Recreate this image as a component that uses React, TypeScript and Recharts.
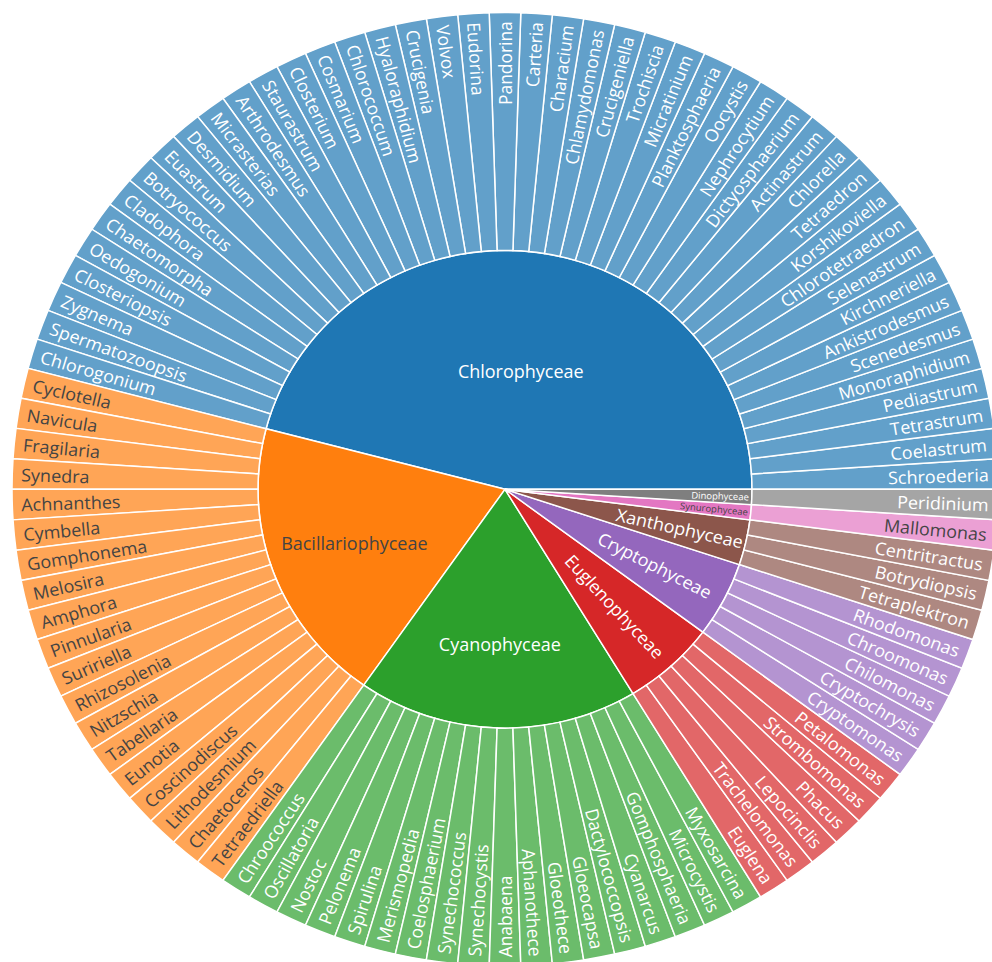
import React from 'react';
import { PieChart, Pie, Cell } from 'recharts';

// genera per class, in drawing order (counter-clockwise from 3 o'clock)
const chlorophyceae = [
  'Schroederia', 'Coelastrum', 'Tetrastrum', 'Pediastrum', 'Monoraphidium', 'Scenedesmus',
  'Ankistrodesmus', 'Kirchneriella', 'Selenastrum', 'Chlorotetraedron', 'Korshikoviella',
  'Tetraedron', 'Chlorella', 'Actinastrum', 'Dictyosphaerium', 'Nephrocytium', 'Oocystis',
  'Planktosphaeria', 'Micratinium', 'Trochiscia', 'Crucigeniella', 'Chlamydomonas', 'Characium',
  'Carteria', 'Pandorina', 'Eudorina', 'Volvox', 'Crucigenia', 'Hyaloraphidium', 'Chlorococcum',
  'Cosmarium', 'Closterium', 'Staurastrum', 'Arthrodesmus', 'Micrasterias', 'Desmidium',
  'Euastrum', 'Botryococcus', 'Cladophora', 'Chaetomorpha', 'Oedogonium', 'Closteriopsis',
  'Zygnema', 'Spermatozoopsis', 'Chlorogonium',
];
const bacillariophyceae = [
  'Cyclotella', 'Navicula', 'Fragilaria', 'Synedra', 'Achnanthes', 'Cymbella', 'Gomphonema',
  'Melosira', 'Amphora', 'Pinnularia', 'Suririella', 'Rhizosolenia', 'Nitzschia', 'Tabellaria',
  'Eunotia', 'Coscinodiscus', 'Lithodesmium', 'Chaetoceros', 'Tetraedriella',
];
const cyanophyceae = [
  'Chroococcus', 'Oscillatoria', 'Nostoc', 'Pelonema', 'Spirulina', 'Merismopedia',
  'Coelosphaerium', 'Synechococcus', 'Synechocystis', 'Anabaena', 'Aphanothece', 'Gloeothece',
  'Gloeocapsa', 'Dactylococcopsis', 'Cyanarcus', 'Gomphosphaeria', 'Microcystis', 'Myxosarcina',
];
const euglenophyceae = ['Euglena', 'Trachelomonas', 'Lepocinclis', 'Phacus', 'Strombomonas', 'Petalomonas'];
const cryptophyceae = ['Cryptomonas', 'Cryptochrysis', 'Chilomonas', 'Chroomonas', 'Rhodomonas'];
const xanthophyceae = ['Tetraplektron', 'Botrydiopsis', 'Centritractus'];
const synurophyceae = ['Mallomonas'];
const dinophyceae = ['Peridinium'];

const classNames = [
  'Chlorophyceae', 'Bacillariophyceae', 'Cyanophyceae', 'Euglenophyceae',
  'Cryptophyceae', 'Xanthophyceae', 'Synurophyceae', 'Dinophyceae',
];
const classGenera = [
  chlorophyceae, bacillariophyceae, cyanophyceae, euglenophyceae,
  cryptophyceae, xanthophyceae, synurophyceae, dinophyceae,
];
const classColors = ['#1f77b4', '#ff7f0e', '#2ca02c', '#d62728', '#9467bd', '#8c564b', '#e377c2', '#7f7f7f'];
// light sectors get dark text (plotly contrast rule)
const innerDark = ['Bacillariophyceae', 'Synurophyceae'];
const outerDark = ['Bacillariophyceae', 'Synurophyceae'];

const FONT = '"Open Sans", verdana, arial, sans-serif';
const CX = 500;
const CY = 501;
const R_IN = 247;
const R_OUT = 493;

const classData = classNames.map((name, i) => ({
  name,
  value: classGenera[i].length,
  color: classColors[i],
}));

const genusData = classNames.flatMap((cls, i) =>
  classGenera[i].map((g) => ({ name: g, value: 1, parent: cls, color: classColors[i] }))
);

const norm = (a: number) => ((a % 360) + 360) % 360;

const renderGenusLabel = (props: any) => {
  const { cx, cy, midAngle, outerRadius, index } = props;
  const d = genusData[index];
  const a = norm(midAngle);
  const outward = a < 90.001 || a > 270.001;
  const r = outerRadius - 9;
  const rad = (a * Math.PI) / 180;
  const x = cx + r * Math.cos(rad);
  const y = cy - r * Math.sin(rad);
  const rot = outward ? -a : 180 - a;
  return (
    <text
      x={x}
      y={y}
      transform={`rotate(${rot} ${x} ${y})`}
      textAnchor={outward ? 'end' : 'start'}
      dominantBaseline="central"
      fill={outerDark.includes(d.parent) ? '#444' : '#fff'}
      fontSize={18}
      fontFamily={FONT}
    >
      {d.name}
    </text>
  );
};

const renderClassLabel = (props: any) => {
  const { cx, cy, midAngle, outerRadius, index, startAngle, endAngle } = props;
  const d = classData[index];
  const a = norm(midAngle);
  const span = Math.abs(endAngle - startAngle);
  const rad = (a * Math.PI) / 180;
  const fill = innerDark.includes(d.name) ? '#444' : '#fff';
  if (d.value >= 10) {
    // wide sectors: horizontal text on the bisector
    const r = outerRadius * (span > 120 ? 0.5 : 0.65);
    const x = cx + r * Math.cos(rad);
    const y = cy - r * Math.sin(rad);
    return (
      <text x={x} y={y} textAnchor="middle" dominantBaseline="central" fill={fill} fontSize={18} fontFamily={FONT}>
        {d.name}
      </text>
    );
  }
  // narrow sectors: radial text
  const pad = d.value > 3 ? 15 : 3;
  const r = outerRadius - pad;
  const x = cx + r * Math.cos(rad);
  const y = cy - r * Math.sin(rad);
  return (
    <text
      x={x}
      y={y}
      transform={`rotate(${-a} ${x} ${y})`}
      textAnchor="end"
      dominantBaseline="central"
      fill={fill}
      fontSize={d.value === 1 ? 9.5 : 18}
      fontFamily={FONT}
    >
      {d.name}
    </text>
  );
};

const App: React.FC = () => {
  return (
    <div style={{ position: 'absolute', left: 0, top: 0, width: 992, height: 962, overflow: 'hidden', background: '#fff' }}>
      <div style={{ transform: 'scale(1, 0.967)', transformOrigin: '0 0' }}>
        <PieChart width={1000} height={1000}>
          <Pie
            data={classData}
            dataKey="value"
            nameKey="name"
            cx={CX}
            cy={CY}
            innerRadius={0}
            outerRadius={R_IN}
            startAngle={0}
            endAngle={360}
            stroke="#fff"
            strokeWidth={1.5}
            label={renderClassLabel}
            labelLine={false}
            isAnimationActive={false}
          >
            {classData.map((d) => (
              <Cell key={d.name} fill={d.color} />
            ))}
          </Pie>
          <Pie
            data={genusData}
            dataKey="value"
            nameKey="name"
            cx={CX}
            cy={CY}
            innerRadius={R_IN}
            outerRadius={R_OUT}
            startAngle={0}
            endAngle={360}
            stroke="#fff"
            strokeWidth={1.5}
            label={renderGenusLabel}
            labelLine={false}
            isAnimationActive={false}
          >
            {genusData.map((d) => (
              <Cell key={d.name} fill={d.color} fillOpacity={0.7} />
            ))}
          </Pie>
        </PieChart>
      </div>
    </div>
  );
};

export default App;
